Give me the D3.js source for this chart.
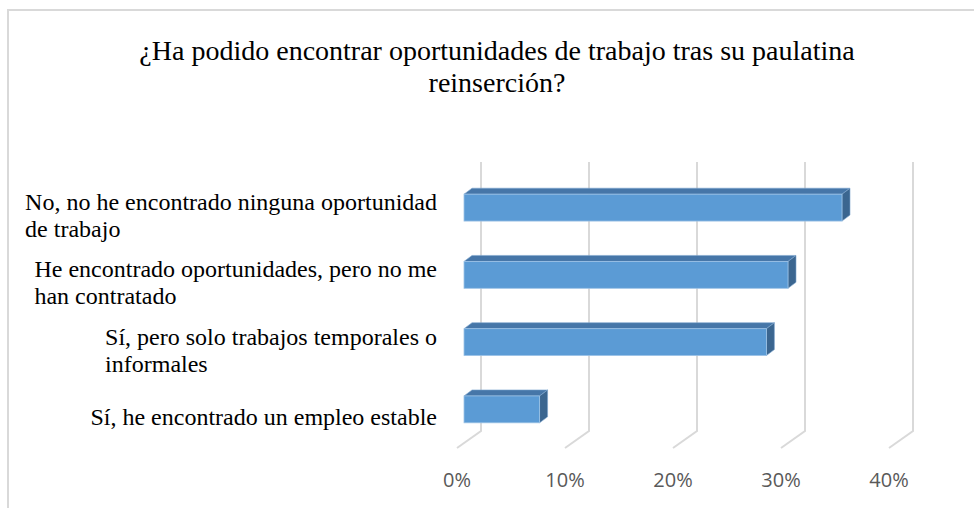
<!DOCTYPE html>
<html>
<head>
<meta charset="utf-8">
<script src="https://cdn.jsdelivr.net/npm/d3@7"></script>
<style>
  body { margin: 0; background: #fff; }
  svg { display: block; }
</style>
</head>
<body>
<svg id="chart" width="974" height="508"></svg>
<script>
// data
var titleLines = ["¿Ha podido encontrar oportunidades de trabajo tras su paulatina", "reinserción?"];
var categories = [
  "No, no he encontrado ninguna oportunidad de trabajo",
  "He encontrado oportunidades, pero no me han contratado",
  "Sí, pero solo trabajos temporales o informales",
  "Sí, he encontrado un empleo estable"
];
var values = [0.35, 0.30, 0.28, 0.07];
var ticks = [0, 0.1, 0.2, 0.3, 0.4];

var svg = d3.select("#chart");
var serif = "'Liberation Serif', 'Times New Roman', serif";

// frame (only left + top visible in the crop)
svg.append("path")
   .attr("d", "M8,508 L8,10 L974,10")
   .attr("fill", "none")
   .attr("stroke", "#d9d9d9")
   .attr("stroke-width", 2);

// title
svg.append("g").selectAll("text")
   .data(titleLines)
   .enter().append("text")
   .attr("x", 497)
   .attr("y", function(d, i) { return 60 + i * 32; })
   .attr("text-anchor", "middle")
   .style("font-family", serif)
   .style("font-size", "28px")
   .style("fill", "#000")
   .text(function(d) { return d; });

// back wall scale
var x = d3.scaleLinear().domain([0, 0.4]).range([481, 913]);
var y = d3.scaleBand().domain(categories).range([174, 443]).paddingInner(0.6).paddingOuter(0.3);

var wallTop = 162, wallBottom = 431;
var floorDx = -24, floorDy = 17;   // floor runs toward the viewer
var frontDx = -17;                 // bar front face offset from the wall
var depthDx = 8, depthDy = -6;     // bar depth

// gridlines
svg.append("g").selectAll("path")
   .data(ticks)
   .enter().append("path")
   .attr("d", function(d) {
       var gx = x(d);
       return "M" + gx + "," + wallTop + " L" + gx + "," + wallBottom +
              " L" + (gx + floorDx) + "," + (wallBottom + floorDy);
   })
   .attr("fill", "none")
   .attr("stroke", "#d9d9d9")
   .attr("stroke-width", 2);

// tick labels
svg.append("g").selectAll("text")
   .data(ticks)
   .enter().append("text")
   .attr("x", function(d) { return x(d) + floorDx; })
   .attr("y", 487)
   .attr("text-anchor", "middle")
   .style("font-family", "'Open Sans', sans-serif")
   .style("font-size", "20px")
   .style("fill", "#595959")
   .text(d3.format(".0%"));

// bars
var bars = svg.append("g").selectAll("g.bar")
   .data(values)
   .enter().append("g")
   .attr("class", "bar");

function x0() { return x(0) + frontDx; }
function x1(d) { return x(d) + frontDx; }
function yTop(d, i) { return y(categories[i]); }
var h = y.bandwidth();

// top face
bars.append("path")
   .attr("d", function(d, i) {
       var t = yTop(d, i);
       return "M" + x0() + "," + t + " L" + (x0() + depthDx) + "," + (t + depthDy) +
              " L" + (x1(d) + depthDx) + "," + (t + depthDy) + " L" + x1(d) + "," + t + "Z";
   })
   .attr("fill", "#4676a8")
   .attr("stroke", "#7ea6cf")
   .attr("stroke-width", 0.6);

// side face
bars.append("path")
   .attr("d", function(d, i) {
       var t = yTop(d, i);
       return "M" + x1(d) + "," + t + " L" + (x1(d) + depthDx) + "," + (t + depthDy) +
              " L" + (x1(d) + depthDx) + "," + (t + h + depthDy) + " L" + x1(d) + "," + (t + h) + "Z";
   })
   .attr("fill", "#3b6690")
   .attr("stroke", "#7ea6cf")
   .attr("stroke-width", 0.6);

// front face
bars.append("rect")
   .attr("x", x0())
   .attr("y", function(d, i) { return yTop(d, i); })
   .attr("width", function(d) { return x1(d) - x0(); })
   .attr("height", h)
   .attr("fill", "#5b9bd5")
   .attr("stroke", "#9dc3e6")
   .attr("stroke-width", 0.8);

// category labels, wrapped, block right-aligned, lines left-aligned
var labelRight = 437, lineH = 27, maxW = 422;
var labels = svg.append("g");
categories.forEach(function(cat, i) {
    var t = labels.append("text")
        .style("font-family", serif)
        .style("font-size", "24px")
        .style("fill", "#000");
    var words = cat.split(" "), lines = [], line = [];
    var probe = t.append("tspan");
    words.forEach(function(w) {
        line.push(w);
        probe.text(line.join(" "));
        if (probe.node().getComputedTextLength() > maxW && line.length > 1) {
            line.pop();
            lines.push(line.join(" "));
            line = [w];
        }
    });
    lines.push(line.join(" "));
    probe.remove();
    var tsp = t.selectAll("tspan").data(lines).enter().append("tspan").text(function(d) { return d; });
    var wMax = 0;
    tsp.each(function() { wMax = Math.max(wMax, this.getComputedTextLength()); });
    var cy = y(cat) + h / 2;
    tsp.attr("x", labelRight - wMax)
       .attr("y", function(d, j) { return cy + 16 + (j - (lines.length - 1) / 2) * lineH; });
});
</script>
</body>
</html>
